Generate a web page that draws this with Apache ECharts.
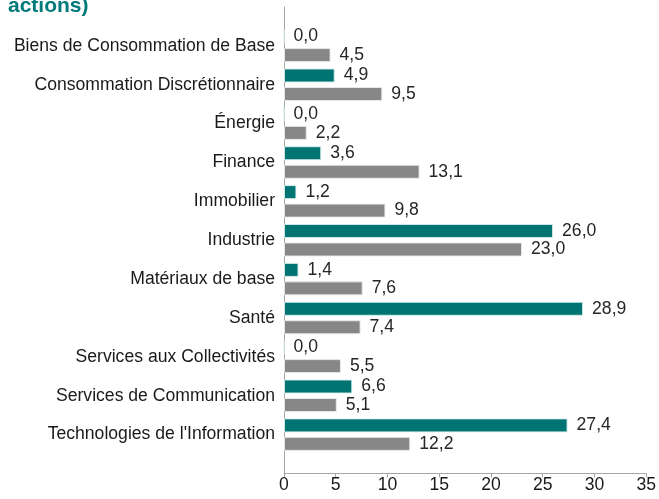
<!DOCTYPE html>
<html>
<head>
<meta charset="utf-8">
<script src="https://cdn.jsdelivr.net/npm/echarts@6/dist/echarts.min.js"></script>
<style>
html,body{margin:0;padding:0;background:#fff;}
#chart{width:659px;height:499px;}
</style>
</head>
<body>
<div id="chart"></div>
<script>
var categories = [
  "Biens de Consommation de Base",
  "Consommation Discrétionnaire",
  "Énergie",
  "Finance",
  "Immobilier",
  "Industrie",
  "Matériaux de base",
  "Santé",
  "Services aux Collectivités",
  "Services de Communication",
  "Technologies de l'Information"
];
var fundValues = [0.0, 4.9, 0.0, 3.6, 1.2, 26.0, 1.4, 28.9, 0.0, 6.6, 27.4];
var indexValues = [4.5, 9.5, 2.2, 13.1, 9.8, 23.0, 7.6, 7.4, 5.5, 5.1, 12.2];
var xTicks = [0, 5, 10, 15, 20, 25, 30, 35];
var titleText = "actions)";

var FONT = "'Liberation Sans', Arial, sans-serif";
var FS = 17.6;
var padCats = [""].concat(categories).concat([""]);
var padFund = [null].concat(fundValues).concat([null]);
var padIndex = [null].concat(indexValues).concat([null]);

function fmt(p) { return p.value.toFixed(1).replace('.', ','); }

var chart = echarts.init(document.getElementById('chart'), null, {renderer: 'canvas'});
chart.setOption({
  animation: false,
  backgroundColor: '#ffffff',
  graphic: [{
    type: 'text',
    left: 8,
    top: -4,
    style: {
      text: titleText,
      font: "bold 21px " + FONT,
      fill: '#007a7a'
    }
  }],
  grid: {left: 284, right: 10.5, top: 7, bottom: 25.5, containLabel: false},
  xAxis: {
    type: 'value',
    min: xTicks[0],
    max: xTicks[xTicks.length - 1],
    interval: xTicks[1] - xTicks[0],
    splitLine: {show: false},
    axisLine: {show: true, lineStyle: {color: '#a6a6a6', width: 1}},
    axisTick: {show: true, length: 4, lineStyle: {color: '#a6a6a6'}},
    axisLabel: {fontFamily: FONT, fontSize: FS, color: '#1a1a1a', margin: 3}
  },
  yAxis: {
    type: 'category',
    data: padCats,
    inverse: true,
    boundaryGap: false,
    axisLine: {show: true, lineStyle: {color: '#a6a6a6', width: 1}},
    axisTick: {show: false},
    splitLine: {show: false},
    axisLabel: {fontFamily: FONT, fontSize: FS, color: '#1a1a1a', margin: 9, interval: 0}
  },
  series: [
    {
      type: 'bar',
      data: padFund,
      barWidth: 14,
      barGap: '32%',
      itemStyle: {color: '#007373', borderColor: 'rgba(220,238,238,0.9)', borderWidth: 1},
      label: {show: true, position: 'right', distance: 9, formatter: fmt,
              fontFamily: FONT, fontSize: FS, color: '#262626'}
    },
    {
      type: 'bar',
      data: padIndex,
      barWidth: 14,
      barGap: '32%',
      itemStyle: {color: '#878787', borderColor: 'rgba(235,235,235,0.9)', borderWidth: 1},
      label: {show: true, position: 'right', distance: 9, formatter: fmt,
              fontFamily: FONT, fontSize: FS, color: '#262626'}
    }
  ]
});
</script>
</body>
</html>
